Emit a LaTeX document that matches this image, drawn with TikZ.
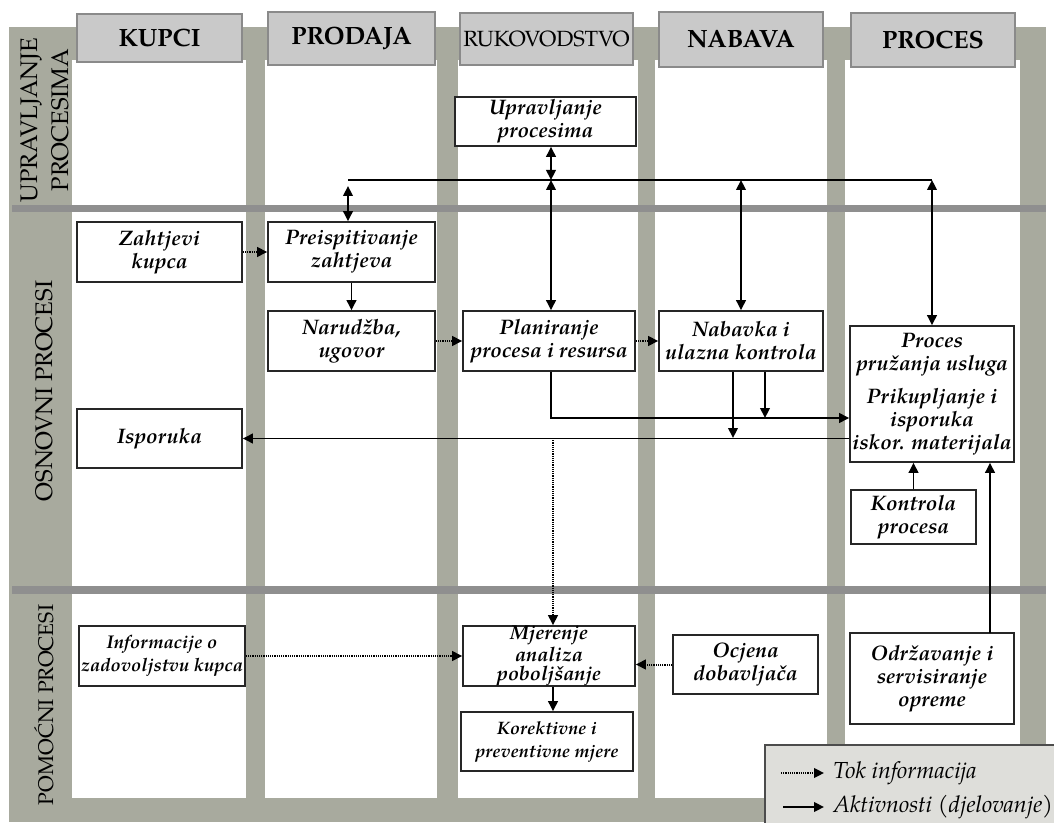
\documentclass[tikz,border=0pt]{standalone}
\usepackage{fontspec}
\setmainfont{texgyrepagella}[Extension=.otf,UprightFont=*-regular,BoldFont=*-bold,ItalicFont=*-italic,BoldItalicFont=*-bolditalic]
\usetikzlibrary{arrows.meta}
\definecolor{lanegray}{HTML}{A8AA9E}
\definecolor{divgray}{HTML}{8F8F8F}
\definecolor{headfill}{HTML}{C9C9C9}
\definecolor{headdraw}{HTML}{8A8A8A}
\definecolor{legfill}{HTML}{DEDEDA}
\tikzset{
  box/.style={draw=black!85, fill=white, line width=0.8pt, inner sep=0pt, align=center,
    font=\fontsize{10.5}{11.5}\selectfont\bfseries\itshape},
  head/.style={draw=headdraw, fill=headfill, line width=0.6pt, inner sep=0pt, align=center,
    font=\fontsize{12.5}{14}\selectfont\bfseries},
  rowlab/.style={rotate=90, align=center, inner sep=0pt, font=\fontsize{12}{15.5}\selectfont},
  tip/.style={-{Triangle[length=5pt,width=4.8pt]}},
  act/.style={line width=0.9pt, tip},
  act2/.style={line width=0.9pt, {Triangle[length=5pt,width=4.8pt]}-{Triangle[length=5pt,width=4.8pt]}},
  info/.style={line width=1pt, dash pattern=on 0.6pt off 0.5pt, tip},
  line/.style={line width=0.9pt},
}
\begin{document}
\begin{tikzpicture}[x=0.5pt,y=-0.5pt]
\useasboundingbox (0,0) rectangle (1054,823);
% background
\fill[lanegray] (9,27) rectangle (1046,822);
\foreach \a/\b in {72/246,265/437,458/638,655/827,845/1020}{
  \fill[white] (\a,60) rectangle (\b,798);
}
\fill[divgray] (12,205) rectangle (1046,212);
\fill[divgray] (12,586) rectangle (1046,594);
% headers
\node[head, minimum width=82.5pt, minimum height=24pt] (h1) at (159.5,38) {KUPCI};
\node[head, minimum width=83.5pt, minimum height=26.5pt] (h2) at (351.5,38.5) {PRODAJA};
\node[head, minimum width=86.5pt, minimum height=26pt, font=\fontsize{11}{14}\selectfont] (h3) at (546.5,39) {RUKOVODSTVO};
\node[head, minimum width=82pt, minimum height=27.5pt] (h4) at (741,39.5) {NABAVA};
\node[head, minimum width=82pt, minimum height=27pt] (h5) at (933,40) {PROCES};
% row labels
\node[rowlab] (r1) at (45,120) {UPRAVLJANJE\\PROCESIMA};
\node[rowlab] (r2) at (44,391) {OSNOVNI PROCESI};
\node[rowlab, font=\fontsize{10.6}{13}\selectfont] (r3) at (44,705) {POMOĆNI PROCESI};
% boxes
\node[box, minimum width=90.5pt, minimum height=24.5pt] (up) at (545.5,121.5) {Upravljanje\\procesima};
\node[box, minimum width=82.5pt, minimum height=30pt] (zk) at (159.5,252) {Zahtjevi\\kupca};
\node[box, minimum width=83.5pt, minimum height=30pt] (pz) at (351.5,252) {Preispitivanje\\zahtjeva};
\node[box, minimum width=83.5pt, minimum height=30pt] (nu) at (351.5,341) {Narudžba,\\ugovor};
\node[box, minimum width=86pt, minimum height=30pt] (pl) at (549,341) {Planiranje\\procesa i resursa};
\node[box, minimum width=82pt, minimum height=30pt] (nk) at (741,341) {Nabavka i\\ulazna kontrola};
\node[box, minimum width=82pt, minimum height=68pt] (pr) at (932,394) {Proces\\pružanja usluga\\[5pt]Prikupljanje i\\isporuka\\iskor. materijala};
\node[box, minimum width=82.5pt, minimum height=29.5pt] (is) at (159.5,438.5) {Isporuka};
\node[box, minimum width=62.5pt, minimum height=27pt] (kp) at (913.5,517) {Kontrola\\procesa};
\node[box, minimum width=82pt, minimum height=45.5pt] (od) at (932,678.5) {Održavanje i\\servisiranje\\opreme};
\node[box, minimum width=83pt, minimum height=30pt, font=\fontsize{9.2}{11.5}\selectfont\bfseries\itshape] (iz) at (162,656) {Informacije o\\zadovoljstvu kupca};
\node[box, minimum width=86pt, minimum height=30pt, font=\fontsize{10}{9.4}\selectfont\bfseries\itshape] (mj) at (549,656) {Mjerenje\\analiza\\poboljšanje};
\node[box, minimum width=72.5pt, minimum height=29.5pt] (oc) at (745.5,664.5) {Ocjena\\dobavljača};
\node[box, minimum width=86pt, minimum height=29.5pt, font=\fontsize{9}{11.5}\selectfont\bfseries\itshape] (km) at (547,741.5) {Korektivne i\\preventivne mjere};
% junction coordinates
\coordinate (t1) at (348,180);
\coordinate (t2) at (551,180);
\coordinate (t3) at (741,180);
\coordinate (t4) at (932,180);
\coordinate (j1) at (551,418);
\coordinate (j2) at (733,438);
\coordinate (j3) at (765,418);
\coordinate (j4) at (553,438);
\coordinate (j5) at (990,633);
% management connectors
\draw[line] (t1) -- (t4);
\draw[act2] (up.south -| t2) -- (t2);
\draw[act2] (t1) ++(0,6) -- (pz.north -| t1);
\draw[act2] (t2) -- (pl.north -| t2);
\draw[act2] (t3) -- (nk.north -| t3);
\draw[act2] (t4) -- (pr.north -| t4);
% core flows
\draw[info] (zk) -- (pz);
\draw[act] (pz) -- (nu);
\draw[info] (nu) -- (pl);
\draw[info] (pl) -- (nk);
\draw[act] (pl.south -| j1) -- (j1) -- (j1 -| pr.west);
\draw[act] (nk.south -| j2) -- (j2);
\draw[act] (nk.south -| j3) -- (j3);
\draw[act] (is.east -| pr.west) -- (is.east);
\draw[act] (kp.north) -- (pr.south -| kp.north);
\draw[act] (j5) -- (j5 |- pr.south);
% support flows
\draw[info] (j4) -- (mj.north -| j4);
\draw[info] (iz) -- (mj);
\draw[info] (oc.west) -- (oc.west -| mj.east);
\draw[act] (mj.south -| j4) -- (km.north -| j4);
% legend
\node[draw=black!70, fill=legfill, line width=0.6pt, minimum width=148pt, minimum height=40pt, inner sep=0pt] (leg) at (913,785) {};
\coordinate (la1) at (781,773);
\coordinate (lb1) at (824,773);
\coordinate (la2) at (783,807);
\coordinate (lb2) at (824,807);
\draw[info] (la1) -- (lb1);
\draw[act] (la2) -- (lb2);
\node[anchor=west, inner sep=0pt, font=\fontsize{11.6}{13}\selectfont\itshape] (lt1) at (833,773) {Tok informacija};
\node[anchor=west, inner sep=0pt, font=\fontsize{11.6}{13}\selectfont\itshape] (lt2) at (833,807) {Aktivnosti (djelovanje)};
\end{tikzpicture}
\end{document}
